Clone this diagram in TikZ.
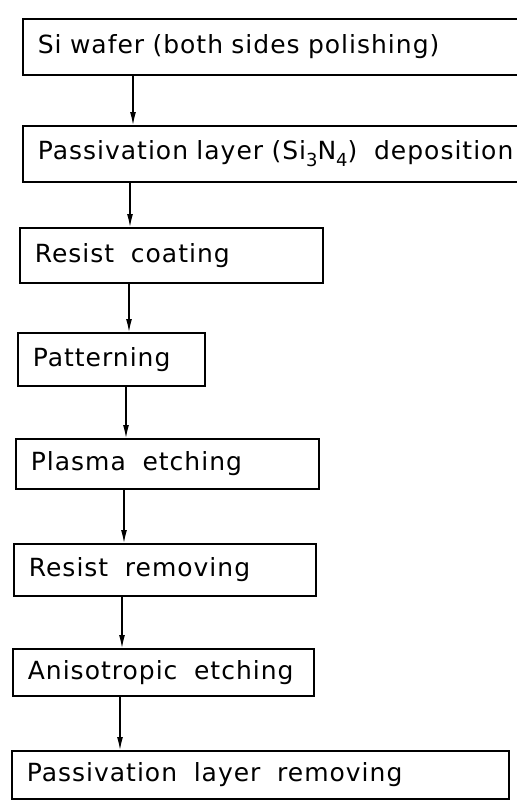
\documentclass[tikz,border=0pt]{standalone}
\usepackage{fontspec}
\setmainfont{DejaVu Sans}[LetterSpace=4]
\usetikzlibrary{arrows.meta}

% lowered, fairly large index digits
\newcommand{\lowidx}[1]{\raisebox{-7pt}{\fontsize{18}{18}\selectfont #1}}

\begin{document}
\begin{tikzpicture}[x=1pt, y=-1pt,
                    every node/.style={draw, line width=1.7pt, anchor=north west, inner xsep=15pt,
                                       inner ysep=0pt, align=left, font=\fontsize{25}{29}\selectfont},
                    flow/.style={line width=1.2pt, -{Latex[length=13pt, width=6pt]}}]

    \useasboundingbox (0,0) rectangle (517,801);

    % Process steps
    \node[text width=470pt, minimum height=56pt] (S1) at (22,18) {Si wafer (both sides polishing)};
    \node[text width=490pt, minimum height=56pt] (S2) at (22,125) {Passivation layer (Si\lowidx{3}N\lowidx{4}) \ deposition};
    \node[text width=273pt, minimum height=55pt] (S3) at (19,227) {Resist \ coating};
    \node[text width=157pt, minimum height=53pt] (S4) at (17,332) {Patterning};
    \node[text width=273pt, minimum height=50pt] (S5) at (15,438) {Plasma \ etching};
    \node[text width=272pt, minimum height=52pt] (S6) at (13,543) {Resist \ removing};
    \node[text width=271pt, minimum height=47pt] (S7) at (12,648) {Anisotropic \ etching};
    \node[text width=467pt, minimum height=48pt] (S8) at (11,750) {Passivation \ layer \ removing};

    % Arrows between steps
    \draw[flow] (S1.south -| 133,0) -- (S2.north -| 133,0);
    \draw[flow] (S2.south -| 130,0) -- (S3.north -| 130,0);
    \draw[flow] (S3.south -| 129,0) -- (S4.north -| 129,0);
    \draw[flow] (S4.south -| 126,0) -- (S5.north -| 126,0);
    \draw[flow] (S5.south -| 124,0) -- (S6.north -| 124,0);
    \draw[flow] (S6.south -| 122,0) -- (S7.north -| 122,0);
    \draw[flow] (S7.south -| 120,0) -- (S8.north -| 120,0);
\end{tikzpicture}
\end{document}
